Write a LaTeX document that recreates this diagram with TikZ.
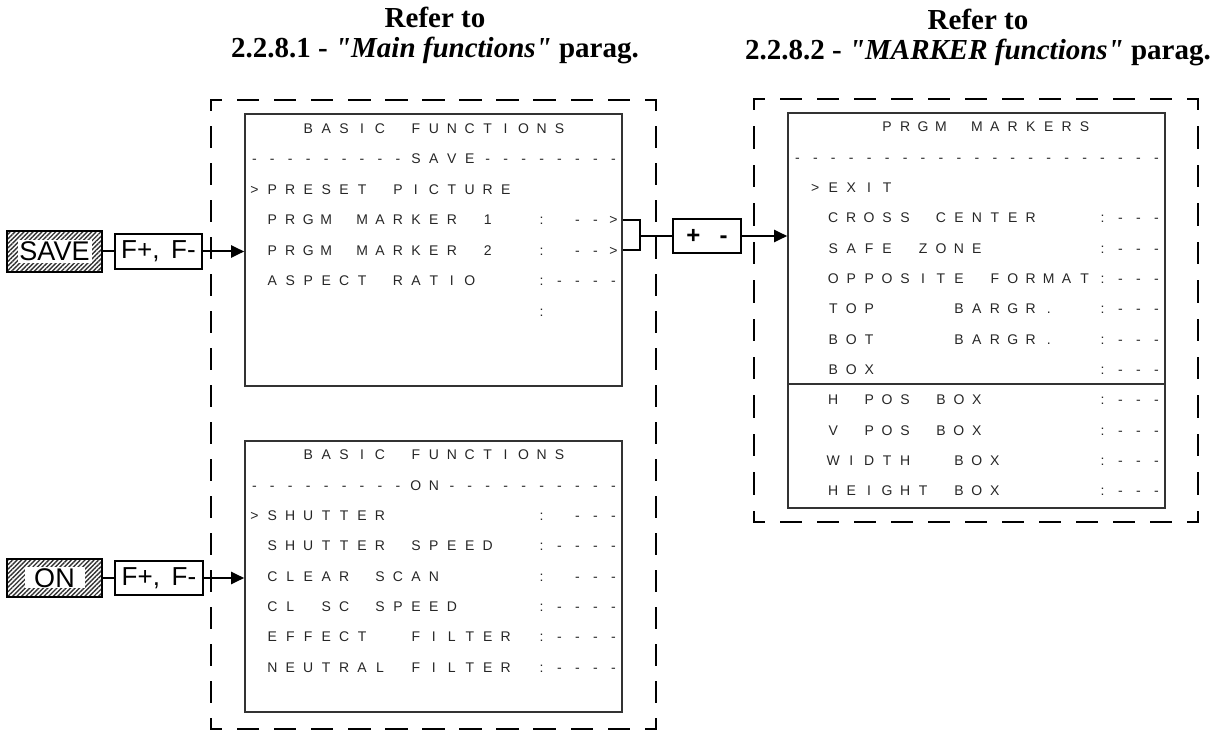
\documentclass[tikz,border=0pt]{standalone}
\usepackage{fontspec}
\setmainfont{Liberation Serif}[Ligatures=TeXOff]
\newfontfamily\osdfont{Liberation Sans}
\usetikzlibrary{arrows.meta,patterns.meta}
\newlength\osdcell
\setlength\osdcell{8.976pt}
\makeatletter
\def\osd#1{\osd@loop#1\@nil}
\def\osd@loop#1{\ifx#1\@nil\else\makebox[\osdcell][c]{\osd@char#1}\expandafter\osd@loop\fi}
\def\osd@char#1{\if*#1\else#1\fi}
\makeatother
\newcommand\dside[5]{\draw[grp, dash pattern=on 10pt off #5, dash phase=5pt] (#1,#2) -- (#3,#4);}
\begin{document}
\begin{tikzpicture}[x=0.5pt,y=-0.5pt,
  osd/.style={font=\osdfont\fontsize{7}{8}\selectfont, inner sep=0pt, text height=5pt, text depth=0pt, anchor=west, text=black!85},
  screen/.style={draw=black!80, line width=0.8pt, inner sep=0pt},
  grp/.style={line width=1.25pt, line cap=rect},
  keybox/.style={draw, line width=0.9pt, inner sep=0pt, font=\osdfont\fontsize{13}{15}\selectfont},
  hatched/.style={draw, line width=1.1pt, inner sep=0pt, pattern={Lines[angle=45,distance=1.6pt,line width=0.7pt]}, pattern color=black!80},
  keylabel/.style={fill=white, inner sep=0pt, font=\osdfont\fontsize{13.5}{15}\selectfont},
  conn/.style={line width=1pt},
  arr/.style={conn, -{Triangle[length=6.5pt,width=6pt]}},
  title/.style={align=center, inner sep=0pt, font=\bfseries\fontsize{14.5}{15}\selectfont}
]
\useasboundingbox (0,0) rectangle (1216,731);

% titles
\node[title, anchor=north] (t1) at (435,7) {Refer to\\2.2.8.1 - \textit{"Main functions"} parag.};
\node[title, anchor=north] (t2) at (978,9) {Refer to\\2.2.8.2 - \textit{"MARKER functions"} parag.};

% dashed groups
\dside{211}{100}{656}{100}{8.54pt}
\dside{211}{729}{656}{729}{8.54pt}
\dside{211}{100}{211}{729}{8.5pt}
\dside{656}{100}{656}{729}{8.5pt}
\dside{754}{99}{1198}{99}{8.5pt}
\dside{754}{522}{1198}{522}{8.5pt}
\dside{754}{99}{754}{522}{9.23pt}
\dside{1198}{99}{1198}{522}{9.23pt}

% screens
\node[screen, minimum width=188.5pt, minimum height=136pt] (scr1) at (433.5,250) {};
\node[screen, minimum width=188.5pt, minimum height=135.5pt] (scr2) at (433.5,576.5) {};
\node[screen, minimum width=188.5pt, minimum height=197.5pt] (scr3) at (976.5,310.5) {};
\coordinate (dv) at (976.5,384);
\draw[draw=black!80, line width=0.8pt] (dv -| scr3.west) -- (dv -| scr3.east);

% screen 1 rows
\node[osd] (a0) at (245,128.5) {\osd{***BASIC*FUNCTIONS}};
\node[osd] (a1) at (245,159) {\osd{---------SAVE--------}};
\node[osd] (a2) at (245,189.5) {\osd{>PRESET*PICTURE}};
\node[osd] (a3) at (245,220) {\osd{*PRGM*MARKER*1**:*-->}};
\node[osd] (a4) at (245,250.5) {\osd{*PRGM*MARKER*2**:*-->}};
\node[osd] (a5) at (245,281) {\osd{*ASPECT*RATIO***:----}};
\node[osd] (a6) at (245,311.5) {\osd{****************:}};

% screen 2 rows
\node[osd] (b0) at (245,455) {\osd{***BASIC*FUNCTIONS}};
\node[osd] (b1) at (245,485.3) {\osd{---------ON----------}};
\node[osd] (b2) at (245,515.6) {\osd{>SHUTTER********:*---}};
\node[osd] (b3) at (245,545.9) {\osd{*SHUTTER*SPEED**:----}};
\node[osd] (b4) at (245,576.2) {\osd{*CLEAR*SCAN*****:*---}};
\node[osd] (b5) at (245,606.5) {\osd{*CL*SC*SPEED****:----}};
\node[osd] (b6) at (245,636.8) {\osd{*EFFECT**FILTER*:----}};
\node[osd] (b7) at (245,667.1) {\osd{*NEUTRAL*FILTER*:----}};

% screen 3 rows
\node[osd] (c0) at (788,127) {\osd{*****PRGM*MARKERS}};
\node[osd] (c1) at (788,157.3) {\osd{---------------------}};
\node[osd] (c2) at (788,187.7) {\osd{*>EXIT}};
\node[osd] (c3) at (788,218) {\osd{**CROSS*CENTER***:---}};
\node[osd] (c4) at (788,248.3) {\osd{**SAFE*ZONE******:---}};
\node[osd] (c5) at (788,278.7) {\osd{**OPPOSITE*FORMAT:---}};
\node[osd] (c6) at (788,309) {\osd{**TOP****BARGR.**:---}};
\node[osd] (c7) at (788,339.3) {\osd{**BOT****BARGR.**:---}};
\node[osd] (c8) at (788,369.6) {\osd{**BOX************:---}};
\node[osd] (c9) at (788,400) {\osd{**H*POS*BOX******:---}};
\node[osd] (c10) at (788,430.3) {\osd{**V*POS*BOX******:---}};
\node[osd] (c11) at (788,460.6) {\osd{**WIDTH**BOX*****:---}};
\node[osd] (c12) at (788,491) {\osd{**HEIGHT*BOX*****:---}};

% keys
\node[hatched, minimum width=47.5pt, minimum height=20.5pt] (save) at (54.5,251.5) {};
\node[keylabel, minimum width=37pt, minimum height=11.5pt] (savet) at (save.center) {SAVE};
\node[keybox, minimum width=43.5pt, minimum height=17.5pt] (fs) at (158.5,251.5) {F+,\hspace{0.45em}F-};
\draw[conn] (save) -- (fs);
\draw[arr] (fs) -- (fs.east -| scr1.west);

\node[hatched, minimum width=47.5pt, minimum height=19pt] (on) at (54.5,578) {};
\node[keylabel, minimum width=30pt, minimum height=10.5pt] (ont) at (on.center) {ON};
\node[keybox, minimum width=44pt, minimum height=17pt] (fo) at (159,578) {F+,\hspace{0.45em}F-};
\draw[conn] (on) -- (fo);
\draw[arr] (fo) -- (fo.east -| scr2.west);

% bracket to marker screen
\coordinate (bx) at (640,236);
\draw[conn] (scr1.east |- a3) -| (bx) |- (scr1.east |- a4);
\node[keybox, font=\osdfont\bfseries\fontsize{12}{14}\selectfont, minimum width=34pt, minimum height=17pt] (pm) at (707,236) {+\hspace{0.8em}-};
\draw[conn] (bx) -- (pm);
\draw[arr] (pm) -- (pm.east -| scr3.west);
\end{tikzpicture}
\end{document}
